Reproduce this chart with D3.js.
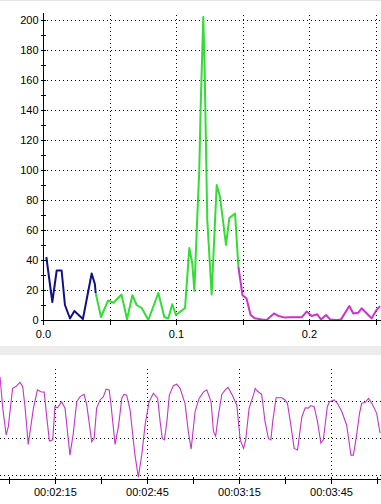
<!DOCTYPE html>
<html>
<head>
<meta charset="utf-8">
<script src="https://cdn.jsdelivr.net/npm/d3@7"></script>
<style>
body { margin: 0; background: #fff; }
svg { display: block; font-family: "Liberation Sans", Arial, sans-serif; }
.axis path, .axis line { stroke: #000; shape-rendering: crispEdges; }
.axis text { font-size: 11px; fill: #000; }
.grid line { stroke: #000; stroke-dasharray: 1,3; shape-rendering: crispEdges; }
</style>
</head>
<body>
<script>
// spectrum (top chart)
var freq = [0.0025, 0.0070, 0.0103, 0.0140, 0.0165, 0.0203, 0.0236, 0.0300, 0.0366, 0.0390,
            0.0396, 0.0436, 0.0490, 0.0530, 0.0590, 0.0632, 0.0672, 0.0704, 0.0742, 0.0792,
            0.0867, 0.0912, 0.0942, 0.0972, 0.1000, 0.1068, 0.1100, 0.1122, 0.1138, 0.1155,
            0.1175, 0.1185, 0.1205, 0.1215, 0.1235, 0.1268, 0.1306, 0.1331, 0.1376, 0.1401,
            0.1444, 0.1469, 0.1500, 0.1530, 0.1561, 0.1594, 0.1644, 0.1681, 0.1737, 0.1769,
            0.1820, 0.1857, 0.1907, 0.1945, 0.1982, 0.2020, 0.2062, 0.2090, 0.2128, 0.2158,
            0.2208, 0.2241, 0.2303, 0.2333, 0.2371, 0.2396, 0.2446, 0.2471, 0.2504, 0.2534];
var amp  = [42, 12, 33, 33, 10, 1, 6, 0.7, 31, 24,
            18, 2, 13, 11.5, 17, 0.5, 16.5, 10, 8, 0,
            18, 2, 1, 10.5, 3.3, 8, 48, 38, 19.5, 58,
            100, 140, 202, 169, 67, 17, 90, 82, 50, 68,
            71, 35.5, 16.5, 14.4, 3.3, 1.1, 0.4, 0, 4.4, 2.7,
            1.6, 1.8, 1.8, 1.8, 5.6, 2.7, 3.8, 0.4, 3.3, 0.4,
            0, 0.4, 9.3, 4.4, 4.9, 7.8, 3.3, 1.1, 6.2, 9.3];
var bandEdges = [0, 0.0396, 0.1469, 1];
var bandColors = ["#10108a", "#33dd33", "#cc33cc"];
var ampTicks = [0, 20, 40, 60, 80, 100, 120, 140, 160, 180, 200];
var freqLabels = [0, 0.1, 0.2];

// signal (bottom chart), time in seconds
var time = [117.1, 118.0, 119.1, 119.8, 121.2, 122.3, 123.6, 124.5, 125.3, 126.3,
            128.0, 129.3, 130.4, 131.5, 132.5, 133.2, 134.3, 135.0, 135.8, 137.2,
            138.3, 139.9, 141.0, 142.1, 143.2, 144.5, 145.4, 147.0, 147.8, 148.6,
            149.7, 150.8, 151.7, 152.7, 153.3, 154.6, 155.7, 156.8, 157.5, 158.4,
            159.5, 161.1, 162.2, 163.3, 164.4, 165.7, 167.1, 168.5, 169.3, 170.0,
            170.7, 171.5, 172.3, 173.6, 174.7, 175.8, 177.4, 178.5, 179.4, 180.7,
            182.0, 183.4, 184.5, 185.9, 186.7, 187.4, 188.3, 189.4, 190.5, 191.4,
            192.7, 194.3, 195.4, 196.5, 197.2, 198.3, 199.7, 200.3, 201.0, 202.4,
            203.5, 204.6, 205.4, 206.0, 207.1, 209.0, 210.0, 210.8, 211.9, 213.0,
            214.1, 215.5, 216.6, 217.6, 218.4, 219.5, 220.6, 221.7, 222.5, 223.8,
            224.5, 226.0, 227.1, 228.5, 230.1, 231.5, 232.3, 233.2, 234.3, 235.0,
            236.1, 237.2, 238.3, 239.9, 241.0];
var level = [2.64, 1.80, 1.08, 1.30, 2.33, 2.38, 2.49, 2.38, 1.80, 0.83,
             1.80, 2.29, 2.24, 2.23, 1.44, 0.92, 0.95, 1.84, 1.81, 1.97,
             1.80, 0.54, 1.13, 1.97, 2.11, 2.17, 1.88, 0.90, 0.99, 1.80,
             2.02, 2.11, 2.31, 2.29, 1.88, 0.83, 1.30, 2.06, 2.17, 2.15,
             1.75, 0.54, -0.05, 0.54, 1.35, 1.97, 2.20, 2.06, 1.44, 0.99,
             0.95, 1.44, 2.15, 2.40, 2.44, 2.33, 1.93, 1.17, 0.70, 1.71,
             2.06, 2.23, 2.29, 1.97, 1.17, 1.05, 1.62, 2.17, 2.29, 2.36,
             2.17, 1.88, 0.95, 0.72, 0.95, 1.80, 2.15, 2.33, 2.26, 2.17,
             1.44, 0.99, 0.95, 1.44, 2.08, 2.08, 2.02, 1.93, 1.35, 0.72,
             0.68, 1.57, 1.81, 1.80, 1.87, 1.84, 1.44, 0.86, 0.95, 1.84,
             1.97, 2.02, 1.93, 1.71, 1.35, 0.54, 0.54, 0.99, 1.66, 1.93,
             1.95, 2.06, 1.93, 1.66, 1.13];
var levelGrid = [0, 1, 2];
var timeTicks = [120, 135, 150, 165, 180, 195, 210, 225, 240];
var timeLabels = [135, 165, 195, 225];

var W = 381, H = 504;
var svg = d3.select("body").append("svg").attr("width", W).attr("height", H);

svg.append("rect").attr("x", 0).attr("y", 0).attr("width", W).attr("height", 1).attr("fill", "#e4e4e4");
// separator band between the two charts
svg.append("rect").attr("x", 0).attr("y", 346).attr("width", W).attr("height", 9).attr("fill", "#ececec");

/* ---------- top chart ---------- */
var x = d3.scaleLinear().domain([0, 0.25]).range([43, 375.5]);
var y = d3.scaleLinear().domain([0, 200]).range([320, 20]);
var topG = svg.append("g");

var gTop = topG.append("g").attr("class", "grid");
gTop.selectAll(".h").data(ampTicks.slice(1)).enter().append("line")
  .attr("x1", 43).attr("x2", W).attr("y1", d => y(d) + 0.5).attr("y2", d => y(d) + 0.5);
gTop.selectAll(".v").data(d3.range(0.05, 0.26, 0.05)).enter().append("line")
  .attr("x1", d => Math.round(x(d)) + 0.5).attr("x2", d => Math.round(x(d)) + 0.5)
  .attr("y1", 15).attr("y2", 320);

topG.append("defs").append("clipPath").attr("id", "clipTop")
  .append("rect").attr("x", 43).attr("y", 0).attr("width", W - 43).attr("height", 322);

var pts = freq.map((f, i) => [f, amp[i]]);
var line = d3.line().x(d => x(d[0])).y(d => y(d[1]));
var lines = topG.append("g").attr("clip-path", "url(#clipTop)");
bandColors.forEach(function(c, k) {
  var seg = pts.filter(p => p[0] >= bandEdges[k] && p[0] <= bandEdges[k + 1]);
  lines.append("path").datum(seg)
    .attr("d", line).attr("fill", "none").attr("stroke", c)
    .attr("stroke-width", 2).attr("stroke-linejoin", "round");
});

// y axis: labels every 20, ticks every 10 crossing the axis
var yAxis = topG.append("g").attr("class", "axis").attr("transform", "translate(43.5,0)")
  .call(d3.axisLeft(y).tickValues(d3.range(0, 201, 10)).tickSize(3).tickPadding(2)
    .tickFormat(d => d % 20 === 0 ? d : ""));
yAxis.select(".domain").attr("d", "M0,13V320.5");
topG.append("g").attr("class", "axis").attr("transform", "translate(43.5,0)")
  .call(d3.axisRight(y).tickValues(d3.range(0, 201, 10)).tickSize(2).tickFormat(""))
  .select(".domain").remove();

var xAxis = topG.append("g").attr("class", "axis").attr("transform", "translate(0,320.5)")
  .call(d3.axisBottom(x).tickValues(d3.range(0, 0.26, 0.05)).tickSize(4).tickPadding(6)
    .tickFormat(d => freqLabels.some(v => Math.abs(v - d) < 1e-9) ? d3.format(".1f")(d) : ""));
xAxis.select(".domain").attr("d", "M43,0H" + W);

/* ---------- bottom chart ---------- */
var t = d3.scaleLinear().domain([117.1, 241.3]).range([0, W]);
var yb = d3.scaleLinear().domain([0, 2]).range([475.3, 400.7]);
var bot = svg.append("g");

var gBot = bot.append("g").attr("class", "grid");
gBot.selectAll(".h").data(levelGrid).enter().append("line")
  .attr("x1", 0).attr("x2", W)
  .attr("y1", d => Math.round(yb(d)) + 0.5).attr("y2", d => Math.round(yb(d)) + 0.5);
gBot.selectAll(".v").data(timeLabels).enter().append("line")
  .attr("x1", d => Math.round(t(d)) + 0.5).attr("x2", d => Math.round(t(d)) + 0.5)
  .attr("y1", 369).attr("y2", 479);

bot.append("defs").append("clipPath").attr("id", "clipBot")
  .append("rect").attr("x", 0).attr("y", 356).attr("width", W).attr("height", 124);

var sig = time.map((s, i) => [s, level[i]]);
bot.append("path").datum(sig).attr("clip-path", "url(#clipBot)")
  .attr("d", d3.line().x(d => t(d[0])).y(d => yb(d[1])))
  .attr("fill", "none").attr("stroke", "#c236c8").attr("stroke-width", 1.1);

function clock(s) {
  var m = Math.floor(s / 60), r = Math.round(s % 60);
  return "00:" + String(m).padStart(2, "0") + ":" + String(r).padStart(2, "0");
}
var tAxis = bot.append("g").attr("class", "axis").attr("transform", "translate(0,479.5)")
  .call(d3.axisBottom(t).tickValues(timeTicks).tickSize(4).tickPadding(5)
    .tickFormat(d => timeLabels.indexOf(d) >= 0 ? clock(d) : ""));
tAxis.select(".domain").attr("d", "M0,0H" + W);
tAxis.selectAll(".tick line").attr("y1", -3);
</script>
</body>
</html>
